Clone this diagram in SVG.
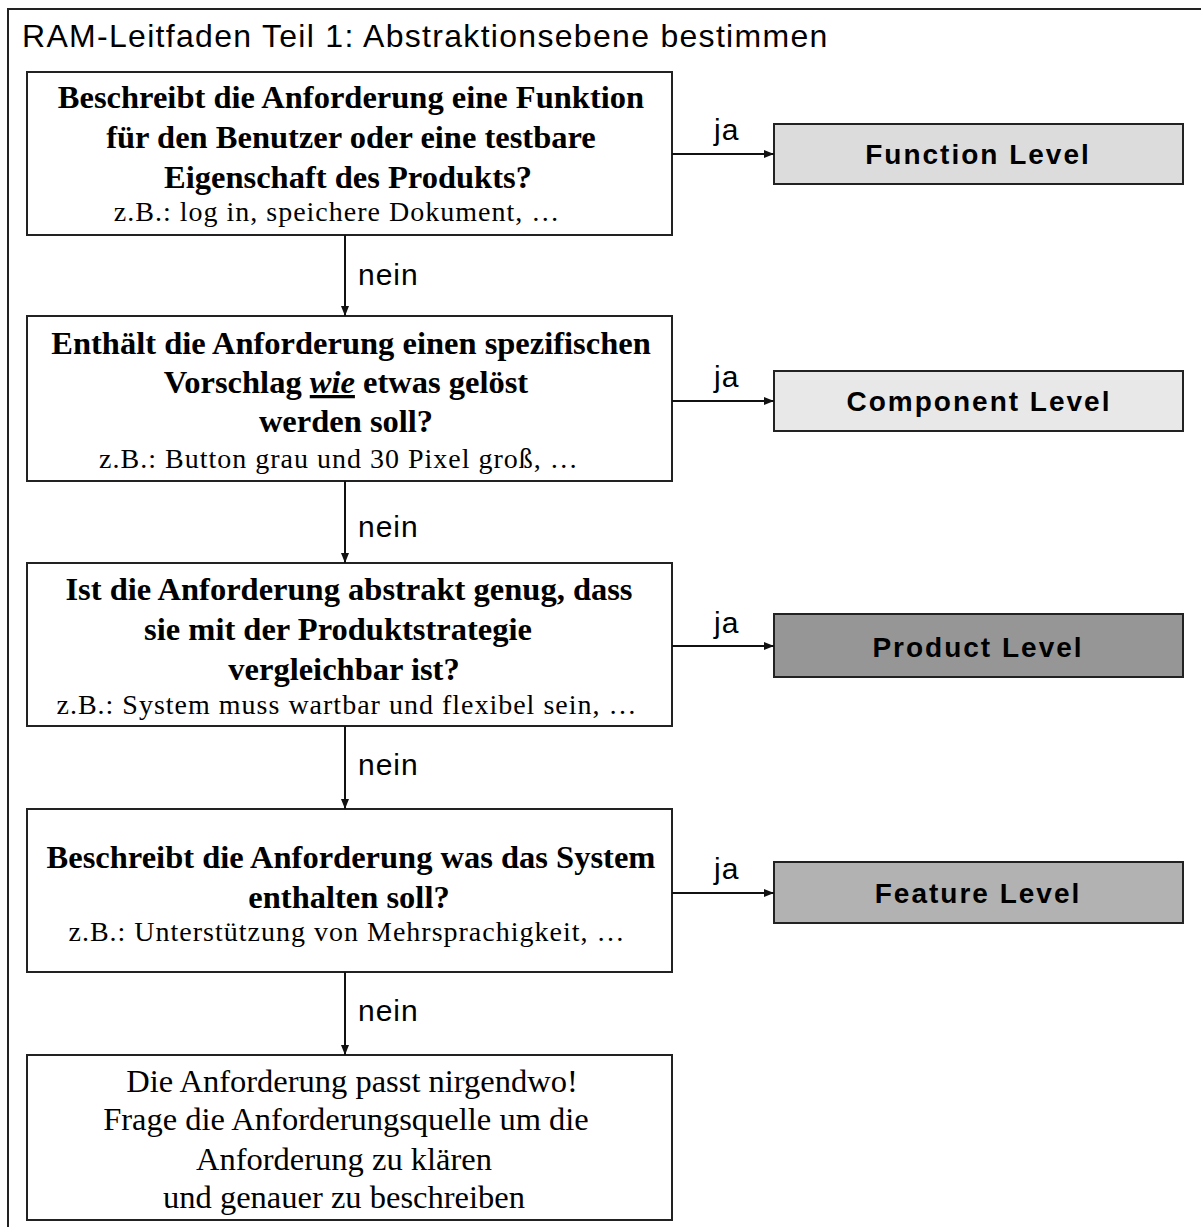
<svg xmlns="http://www.w3.org/2000/svg" width="1201" height="1227" viewBox="0 0 1201 1227">
<style>
.frame{fill:none;stroke:#222;stroke-width:2}
.box{fill:#fff;stroke:#222;stroke-width:2}
.lvl{stroke:#222;stroke-width:2}
.q{font-family:"Liberation Serif",serif;font-weight:bold;font-size:32.5px;fill:#000;text-anchor:middle}
.ex{font-family:"Liberation Serif",serif;font-size:28px;letter-spacing:1px;fill:#000;text-anchor:middle}
.end{font-family:"Liberation Serif",serif;font-size:32.5px;fill:#000;text-anchor:middle}
.lt{font-family:"Liberation Sans",Arial,sans-serif;font-weight:bold;font-size:28px;letter-spacing:2px;fill:#000;text-anchor:middle}
.lab{font-family:"Liberation Sans",Arial,sans-serif;font-size:30px;letter-spacing:1px;fill:#000}
.title{font-family:"Liberation Sans",Arial,sans-serif;font-size:32px;letter-spacing:1.3px;fill:#000}
.con{fill:none;stroke:#111;stroke-width:2}
</style>
<defs>
<marker id="ah" viewBox="0 0 10 10" refX="10" refY="5" markerWidth="10" markerHeight="10" markerUnits="userSpaceOnUse" orient="auto">
<path d="M0,1 L10,5 L0,9 z" fill="#111"/>
</marker>
</defs>
<rect class="frame" x="8" y="9" width="1210" height="1240"/>
<text class="title" x="22" y="47">RAM-Leitfaden Teil 1: Abstraktionsebene bestimmen</text>

<g id="q1">
<rect class="box" x="27" y="72" width="645" height="163"/>
<text class="q" x="351" y="108">Beschreibt die Anforderung eine Funktion</text>
<text class="q" x="351" y="148">für den Benutzer oder eine testbare</text>
<text class="q" x="348" y="188">Eigenschaft des Produkts?</text>
<text class="ex" x="337" y="221">z.B.: log in, speichere Dokument, …</text>
</g>
<g id="q2">
<rect class="box" x="27" y="316" width="645" height="165"/>
<text class="q" x="351" y="354">Enthält die Anforderung einen spezifischen</text>
<text class="q" x="346" y="393">Vorschlag <tspan font-style="italic" text-decoration="underline">wie</tspan> etwas gelöst</text>
<text class="q" x="346" y="432">werden soll?</text>
<text class="ex" x="339" y="468">z.B.: Button grau und 30 Pixel groß, …</text>
</g>
<g id="q3">
<rect class="box" x="27" y="563" width="645" height="163"/>
<text class="q" x="349" y="600">Ist die Anforderung abstrakt genug, dass</text>
<text class="q" x="338" y="640">sie mit der Produktstrategie</text>
<text class="q" x="344" y="680">vergleichbar ist?</text>
<text class="ex" x="347" y="714">z.B.: System muss wartbar und flexibel sein, …</text>
</g>
<g id="q4">
<rect class="box" x="27" y="809" width="645" height="163"/>
<text class="q" x="351" y="868">Beschreibt die Anforderung was das System</text>
<text class="q" x="349" y="908">enthalten soll?</text>
<text class="ex" x="347" y="941">z.B.: Unterstützung von Mehrsprachigkeit, …</text>
</g>
<g id="end">
<rect class="box" x="27" y="1055" width="645" height="165"/>
<text class="end" x="352" y="1092">Die Anforderung passt nirgendwo!</text>
<text class="end" x="346" y="1130">Frage die Anforderungsquelle um die</text>
<text class="end" x="344" y="1170">Anforderung zu klären</text>
<text class="end" x="344" y="1208">und genauer zu beschreiben</text>
</g>

<g id="function-level">
<rect class="lvl" x="774" y="124" width="409" height="60" fill="#dcdcdc"/>
<text class="lt" x="978" y="164">Function Level</text>
</g>
<g id="component-level">
<rect class="lvl" x="774" y="371" width="409" height="60" fill="#e8e8e8"/>
<text class="lt" x="979" y="411">Component Level</text>
</g>
<g id="product-level">
<rect class="lvl" x="774" y="614" width="409" height="63" fill="#969696"/>
<text class="lt" x="978" y="657">Product Level</text>
</g>
<g id="feature-level">
<rect class="lvl" x="774" y="862" width="409" height="61" fill="#b2b2b2"/>
<text class="lt" x="978" y="903">Feature Level</text>
</g>

<g id="connectors">
<line class="con" x1="345" y1="235" x2="345" y2="316" marker-end="url(#ah)"/>
<line class="con" x1="345" y1="481" x2="345" y2="563" marker-end="url(#ah)"/>
<line class="con" x1="345" y1="726" x2="345" y2="809" marker-end="url(#ah)"/>
<line class="con" x1="345" y1="972" x2="345" y2="1055" marker-end="url(#ah)"/>
<line class="con" x1="672" y1="154" x2="774" y2="154" marker-end="url(#ah)"/>
<line class="con" x1="672" y1="401" x2="774" y2="401" marker-end="url(#ah)"/>
<line class="con" x1="672" y1="646" x2="774" y2="646" marker-end="url(#ah)"/>
<line class="con" x1="672" y1="893" x2="774" y2="893" marker-end="url(#ah)"/>
<text class="lab" x="358" y="285">nein</text>
<text class="lab" x="358" y="537">nein</text>
<text class="lab" x="358" y="775">nein</text>
<text class="lab" x="358" y="1021">nein</text>
<text class="lab" x="714" y="140">ja</text>
<text class="lab" x="714" y="387">ja</text>
<text class="lab" x="714" y="633">ja</text>
<text class="lab" x="714" y="879">ja</text>
</g>
</svg>
